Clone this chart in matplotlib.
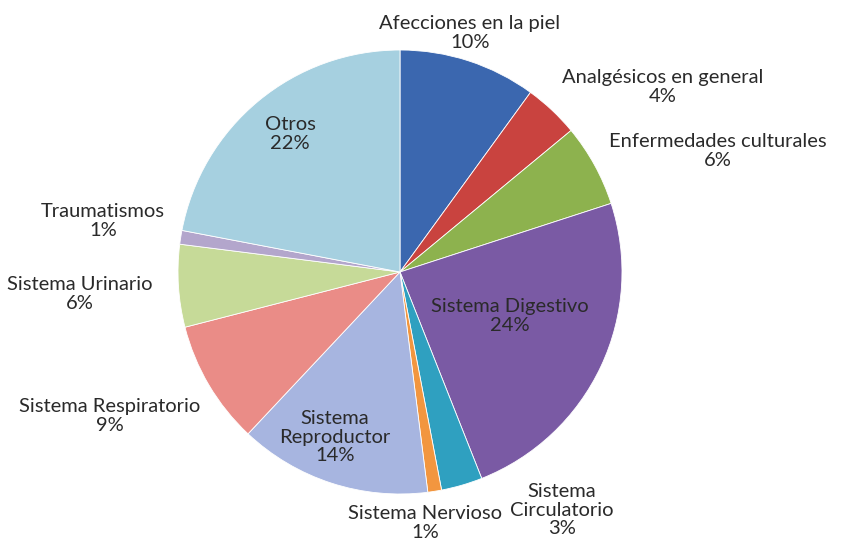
# Pie chart of consultation categories (Spanish labels)
import matplotlib
matplotlib.use("Agg")
import matplotlib.pyplot as plt

# Category names and shares (percent)
categories = [
    "Afecciones en la piel",
    "Analgésicos en general",
    "Enfermedades culturales",
    "Sistema Digestivo",
    "Sistema\nCirculatorio",
    "Sistema Nervioso",
    "Sistema\nReproductor",
    "Sistema Respiratorio",
    "Sistema Urinario",
    "Traumatismos",
    "Otros",
]
shares = [10, 4, 6, 24, 3, 1, 14, 9, 6, 1, 22]

# Slice colours (Office-like palette)
colors = ["#3B67AF", "#C9433F", "#8DB24E", "#7A5AA4", "#2FA0C0", "#F2963F",
          "#A7B5E0", "#EA8C87", "#C6DA98", "#B3A6CC", "#A6D0E0"]

# Label centres in figure pixels (layout only)
label_px = [(470, 33), (663, 87), (718, 151), (510, 316), (562, 510),
            (425, 523), (335, 437), (110, 416), (80, 294), (103, 221),
            (290, 134)]

W, H = 848, 550
cx, cy, R = 400, 272, 222

fig = plt.figure(figsize=(W / 100, H / 100), dpi=100)
ax = fig.add_axes([0, 0, 1, 1])

ax.pie(shares, colors=colors, startangle=90, counterclock=False,
       radius=1.0, wedgeprops=dict(edgecolor="white", linewidth=0.6))

ax.set_xlim(-cx / R, (W - cx) / R)
ax.set_ylim(-(H - cy) / R, cy / R)
ax.set_aspect("equal")
ax.axis("off")

for name, val, (px, py) in zip(categories, shares, label_px):
    ax.text((px - cx) / R, (cy - py) / R, f"{name}\n{val}%",
            ha="center", va="center", fontsize=14.5, family="Lato",
            color="#2a2a2a", linespacing=1.1)

plt.savefig("out.png", dpi=100)
